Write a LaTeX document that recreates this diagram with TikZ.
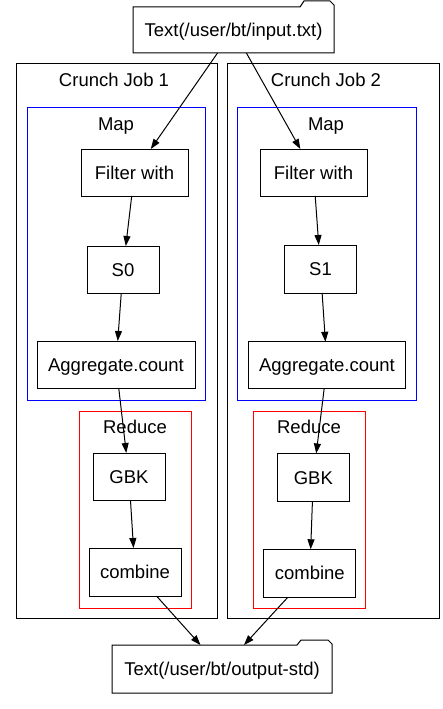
\documentclass[tikz,border=0pt]{standalone}
\usepackage{fontspec}
\setmainfont{Liberation Sans}
\usetikzlibrary{arrows.meta}
\begin{document}
\begin{tikzpicture}[x=1pt,y=-1pt,
  every node/.style={font=\fontsize{18.5}{20}\selectfont, inner sep=0pt, outer sep=0pt, text height=13.2pt, text depth=0pt},
  box/.style={draw, line width=1pt, rectangle},
  cluster/.style={draw, line width=1pt, rectangle},
  txt/.style={draw=none},
  arr/.style={line width=1pt, -{Triangle[length=10pt,width=7pt]}}]
\useasboundingbox (0,0) rectangle (443,709);
% clusters
\node[cluster, minimum width=201, minimum height=554] (job1) at (116.5,341) {};
\node[cluster, minimum width=212, minimum height=554] (job2) at (333,341) {};
\node[txt] (job1l) at (114,80) {Crunch Job 1};
\node[txt] (job2l) at (326,80) {Crunch Job 2};
\node[cluster, draw=blue, minimum width=178, minimum height=293] (map1) at (116,253.5) {};
\node[cluster, draw=blue, minimum width=179, minimum height=293] (map2) at (326.5,253.5) {};
\node[txt] (map1l) at (116,124) {Map};
\node[txt] (map2l) at (326,124) {Map};
\node[cluster, draw=red, minimum width=112, minimum height=197] (red1) at (135,510) {};
\node[cluster, draw=red, minimum width=112, minimum height=197] (red2) at (309,510) {};
\node[txt] (red1l) at (135,427) {Reduce};
\node[txt] (red2l) at (309,427) {Reduce};
% folders
\node[txt, minimum width=201, minimum height=46] (in) at (233.5,30) {Text(/user/bt/input.txt)};
\draw[line width=1pt] (133,7) -- (300,7) -- (304,1) -- (330,1) -- (334,5) -- (334,53) -- (133,53) -- cycle;
\node[txt, minimum width=220, minimum height=48] (out) at (222,669) {Text(/user/bt/output-std)};
\draw[line width=1pt] (112,645) -- (297,645) -- (301,640) -- (328,640) -- (332,644) -- (332,693) -- (112,693) -- cycle;
% job 1 nodes
\node[box, minimum width=107, minimum height=47] (f1) at (134.5,172.5) {Filter with};
\node[box, minimum width=72, minimum height=47] (s0) at (123,269.5) {S0};
\node[box, minimum width=158, minimum height=47] (a1) at (116,364.5) {Aggregate.count};
\node[box, minimum width=72, minimum height=47] (g1) at (129,476.5) {GBK};
\node[box, minimum width=92, minimum height=48] (c1) at (135,572) {combine};
% job 2 nodes
\node[box, minimum width=107, minimum height=47] (f2) at (313.5,172.5) {Filter with};
\node[box, minimum width=72, minimum height=48] (s1) at (320.5,269) {S1};
\node[box, minimum width=157, minimum height=47] (a2) at (327,365.3) {Aggregate.count};
\node[box, minimum width=72, minimum height=48] (g2) at (313.3,477.5) {GBK};
\node[box, minimum width=92, minimum height=48] (c2) at (309.8,573.3) {combine};
% edges
\draw[arr] (in) -- (f1);
\draw[arr] (in) -- (f2);
\draw[arr] (f1) -- (s0);
\draw[arr] (s0) -- (a1);
\draw[arr] (a1) -- (g1);
\draw[arr] (g1) -- (c1);
\draw[arr] (c1) -- (out);
\draw[arr] (f2) -- (s1);
\draw[arr] (s1) -- (a2);
\draw[arr] (a2) -- (g2);
\draw[arr] (g2) -- (c2);
\draw[arr] (c2) -- (out);
\end{tikzpicture}
\end{document}
